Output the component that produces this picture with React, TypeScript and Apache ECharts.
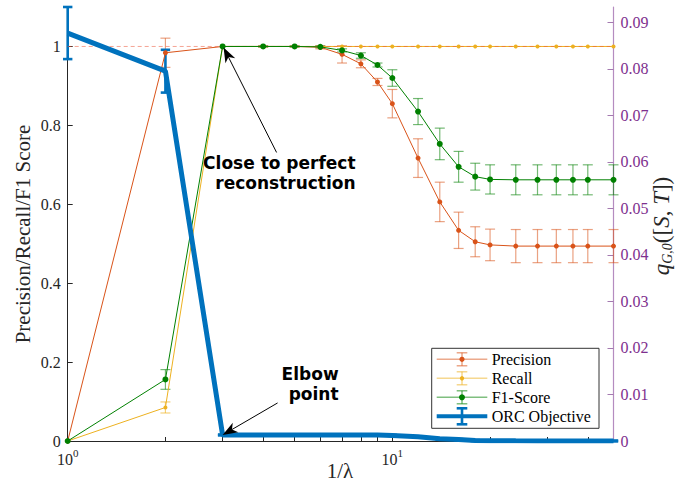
import React, { useEffect, useRef } from 'react';
import * as echarts from 'echarts';

// ---------- data ----------
const xValues = [1, 2, 3, 4, 5, 6, 7, 8, 9, 10, 12, 14, 16, 18, 20, 24, 28, 32, 36, 40, 48];
const precision = [0, 0.984, 1, 1, 1, 0.998, 0.98, 0.956, 0.91, 0.855, 0.717, 0.606, 0.534, 0.505, 0.497, 0.494, 0.494, 0.494, 0.494, 0.494, 0.494];
const precisionErr = [0, 0.037, 0, 0.002, 0.002, 0.004, 0.022, 0.01, 0.009, 0.036, 0.049, 0.05, 0.046, 0.038, 0.04, 0.042, 0.042, 0.042, 0.042, 0.042, 0.042];
const recall = [0, 0.085, 1, 1, 1, 1, 1, 1, 1, 1, 1, 1, 1, 1, 1, 1, 1, 1, 1, 1, 1];
const recallErr = [0, 0.014, 0, 0, 0, 0, 0, 0, 0, 0, 0, 0, 0, 0, 0, 0, 0, 0, 0, 0, 0];
const f1 = [0, 0.156, 1, 1, 1, 0.999, 0.99, 0.977, 0.953, 0.92, 0.835, 0.753, 0.695, 0.67, 0.663, 0.662, 0.662, 0.662, 0.662, 0.662, 0.662];
const f1Err = [0, 0.025, 0, 0.001, 0.001, 0.002, 0.004, 0.007, 0.005, 0.021, 0.033, 0.04, 0.039, 0.034, 0.037, 0.038, 0.038, 0.038, 0.038, 0.038, 0.038];
const orc = [0.0877, 0.0795, 0.0013, 0.0013, 0.0013, 0.0013, 0.0013, 0.0013, 0.0013, 0.0012, 0.0009, 0.0005, 0.0003, 0.0001, 0.00005, 0.00003, 0.00002, 0.00002, 0.00001, 0.00001, 0.00001];
const orcErr = [0.0056, 0.0046, 0.0001, 0.0001, 0.0001, 0.0001, 0.0001, 0.0001, 0.0001, 0.0001, 0.0001, 0.0001, 0.0001, 0.0001, 0.0001, 0.0001, 0.0001, 0.0001, 0.0001, 0.0001, 0.0001];
const referenceLine = [1, 1];
const leftTicks = [0, 0.2, 0.4, 0.6, 0.8, 1];
const rightTicks = [0, 0.01, 0.02, 0.03, 0.04, 0.05, 0.06, 0.07, 0.08, 0.09];
const xTickValues = [1, 2, 3, 4, 5, 6, 7, 8, 9, 10, 20, 30, 40];
const legendLabels = ['Precision', 'Recall', 'F1-Score', 'ORC Objective'];

const C_PREC = '#D95319';
const C_REC = '#EDB120';
const C_F1 = '#008000';
const C_ORC = '#0072BD';
const C_PURPLE = '#7E2F8E';
const C_AXIS = '#262626';
const SERIF = '"Liberation Serif", "Times New Roman", serif';
const SANS = '"DejaVu Sans", sans-serif';

function errorSeries(name: string, vals: number[], errs: number[], color: string, yAxisIndex: number, lineWidth: number, capHalf: number, opacity: number) {
  return {
    type: 'custom',
    name,
    xAxisIndex: 0,
    yAxisIndex,
    silent: true,
    data: xValues.map((x, i) => [x, vals[i], errs[i]]),
    encode: { x: 0, y: 1 },
    renderItem: (_params: any, api: any) => {
      const x = api.value(0);
      const y = api.value(1);
      const e = api.value(2);
      if (!e) return { type: 'group', children: [] };
      const top = api.coord([x, y + e]);
      const bot = api.coord([x, y - e]);
      const style = { stroke: color, lineWidth, opacity };
      return {
        type: 'group',
        children: [
          { type: 'line', shape: { x1: top[0], y1: top[1], x2: bot[0], y2: bot[1] }, style },
          { type: 'line', shape: { x1: top[0] - capHalf, y1: top[1], x2: top[0] + capHalf, y2: top[1] }, style },
          { type: 'line', shape: { x1: bot[0] - capHalf, y1: bot[1], x2: bot[0] + capHalf, y2: bot[1] }, style },
        ],
      };
    },
  };
}

function lineSeries(name: string, vals: number[], color: string, yAxisIndex: number, width: number, symbolSize: number) {
  return {
    type: 'line',
    name,
    xAxisIndex: 0,
    yAxisIndex,
    silent: true,
    data: xValues.map((x, i) => [x, vals[i]]),
    symbol: symbolSize > 0 ? 'circle' : 'none',
    symbolSize,
    showSymbol: symbolSize > 0,
    itemStyle: { color },
    lineStyle: { color, width },
    emphasis: { disabled: true },
  };
}

function arrow(tail: number[], tip: number[], headLen: number, headHalf: number) {
  const dx = tip[0] - tail[0];
  const dy = tip[1] - tail[1];
  const L = Math.hypot(dx, dy);
  const ux = dx / L, uy = dy / L;
  const px = -uy, py = ux;
  const bx = tip[0] - ux * headLen, by = tip[1] - uy * headLen;
  const nx = tip[0] - ux * headLen * 0.72, ny = tip[1] - uy * headLen * 0.72;
  return [
    { type: 'line', z: 100, shape: { x1: tail[0], y1: tail[1], x2: nx, y2: ny }, style: { stroke: '#000', lineWidth: 1 } },
    {
      type: 'polygon', z: 100,
      shape: { points: [[tip[0], tip[1]], [bx + px * headHalf, by + py * headHalf], [nx, ny], [bx - px * headHalf, by - py * headHalf]] },
      style: { fill: '#000' },
    },
  ];
}

export default function App() {
  const ref = useRef<HTMLDivElement>(null);
  useEffect(() => {
    if (!ref.current) return;
    const chart = echarts.init(ref.current, null, { renderer: 'svg' });
    const logMax = Math.log10(xValues[xValues.length - 1]);
    const series: any[] = [
      errorSeries('precErr', precision, precisionErr, C_PREC, 0, 1.2, 5, 0.55),
      lineSeries('Precision', precision, C_PREC, 0, 1, 5),
      errorSeries('recErr', recall, recallErr, C_REC, 0, 1.2, 5, 0.6),
      lineSeries('Recall', recall, C_REC, 0, 1, 4),
      {
        type: 'line', name: 'ref', xAxisIndex: 0, yAxisIndex: 0, silent: true,
        data: [[xValues[0], referenceLine[0]], [xValues[xValues.length - 1], referenceLine[1]]],
        symbol: 'none', lineStyle: { color: 'rgba(235,90,60,0.55)', width: 1, type: [4, 3] },
      },
      errorSeries('f1Err', f1, f1Err, C_F1, 0, 1.2, 5, 0.55),
      lineSeries('F1-Score', f1, C_F1, 0, 1, 6),
      errorSeries('orcErr', orc, orcErr, C_ORC, 1, 2.6, 4.7, 1),
      lineSeries('ORC Objective', orc, C_ORC, 1, 5, 0),
    ];
    const option: any = {
      animation: false,
      backgroundColor: '#fff',
      grid: { left: 67.7, right: 66.5, top: 7, bottom: 54, containLabel: false },
      xAxis: [
        {
          type: 'log', logBase: 10, min: xValues[0], max: xValues[xValues.length - 1],
          axisLine: { show: true, lineStyle: { color: C_AXIS, width: 1 } },
          axisTick: { show: false },
          minorTick: { show: false },
          splitLine: { show: false },
          axisLabel: {
            margin: 6,
            formatter: (v: number) => (Math.abs(v - 1) < 1e-9 ? '{b|10}{s|0}' : Math.abs(v - 10) < 1e-9 ? '{b|10}{s|1}' : ''),
            rich: {
              b: { fontFamily: SERIF, fontSize: 16, color: C_AXIS, lineHeight: 20, verticalAlign: 'bottom' },
              s: { fontFamily: SERIF, fontSize: 11, color: C_AXIS, lineHeight: 12, verticalAlign: 'top' },
            },
          },
        },
        {
          type: 'value', min: 0, max: logMax, position: 'bottom', show: true,
          axisLine: { show: false },
          axisLabel: { show: false },
          splitLine: { show: false },
          axisTick: {
            show: true, inside: true, length: 4,
            customValues: xTickValues.map((v) => Math.log10(v)),
            lineStyle: { color: C_AXIS, width: 1 },
          },
        },
      ],
      yAxis: [
        {
          type: 'value', min: 0, max: 1.1, position: 'left',
          axisLine: { show: true, lineStyle: { color: C_AXIS, width: 1 } },
          axisTick: { show: true, inside: true, length: 5, customValues: leftTicks, lineStyle: { color: C_AXIS } },
          axisLabel: { customValues: leftTicks, fontFamily: SERIF, fontSize: 16, color: C_AXIS, margin: 7 },
          splitLine: { show: false },
        },
        {
          type: 'value', min: 0, max: 0.0933, position: 'right',
          axisLine: { show: true, lineStyle: { color: '#B58CC0', width: 1.2 } },
          axisTick: { show: true, inside: true, length: 6, customValues: rightTicks, lineStyle: { color: '#A47AB0' } },
          axisLabel: {
            customValues: rightTicks, fontFamily: SERIF, fontSize: 16, color: C_PURPLE, margin: 7,
            formatter: (v: number) => (v === 0 ? '0' : v.toFixed(2)),
          },
          splitLine: { show: false },
        },
      ],
      series,
    };
    chart.setOption(option);

    const f1Index = series.findIndex((s) => s.name === 'F1-Score');
    const orcIndex = series.findIndex((s) => s.name === 'ORC Objective');
    const p1 = chart.convertToPixel({ seriesIndex: f1Index }, [xValues[2], f1[2]]) as number[];
    const p2 = chart.convertToPixel({ seriesIndex: orcIndex }, [xValues[2], orc[2]]) as number[];
    const tip1 = [p1[0] + 1, p1[1] + 1];
    const tip2 = [p2[0], p2[1]];

    // legend
    const lx = 431.7, ly = 348.3, lw = 167.3, lh = 80;
    const rowsY = [359.3, 378.3, 397.3, 416.3];
    const iconX0 = 436.7, iconX1 = 487.3, iconC = 462, textX = 491.7;
    const legendStyles = [
      { line: 'rgba(217,83,25,0.5)', dot: C_PREC, dotR: 2.6, lw: 1.5, ew: 1.3, eh: 6.5, cap: 5.3 },
      { line: 'rgba(237,177,32,0.5)', dot: C_REC, dotR: 2.2, lw: 1.5, ew: 1.3, eh: 6.5, cap: 5.3 },
      { line: 'rgba(0,128,0,0.5)', dot: C_F1, dotR: 3, lw: 1.5, ew: 1.3, eh: 6.5, cap: 5.3 },
      { line: C_ORC, dot: '', dotR: 0, lw: 4, ew: 2.6, eh: 8, cap: 5.3 },
    ];
    const legendEls: any[] = [
      { type: 'rect', z: 100, shape: { x: lx, y: ly, width: lw, height: lh }, style: { fill: '#fff', stroke: '#333', lineWidth: 1 } },
    ];
    legendLabels.forEach((label, i) => {
      const y = rowsY[i];
      const st = legendStyles[i];
      const ec = i === 3 ? C_ORC : st.dot;
      const eo = i === 3 ? 1 : 0.6;
      legendEls.push(
        { type: 'line', z: 101, shape: { x1: iconX0, y1: y, x2: iconX1, y2: y }, style: { stroke: st.line, lineWidth: st.lw } },
        { type: 'line', z: 101, shape: { x1: iconC, y1: y - st.eh, x2: iconC, y2: y + st.eh }, style: { stroke: ec, lineWidth: st.ew, opacity: eo } },
        { type: 'line', z: 101, shape: { x1: iconC - st.cap, y1: y - st.eh, x2: iconC + st.cap, y2: y - st.eh }, style: { stroke: ec, lineWidth: st.ew, opacity: eo } },
        { type: 'line', z: 101, shape: { x1: iconC - st.cap, y1: y + st.eh, x2: iconC + st.cap, y2: y + st.eh }, style: { stroke: ec, lineWidth: st.ew, opacity: eo } },
        { type: 'text', z: 101, x: textX, y, style: { text: label, font: `16px ${SERIF}`, fill: '#000', align: 'left', verticalAlign: 'middle' } },
      );
      if (st.dotR > 0) {
        legendEls.push({ type: 'circle', z: 102, shape: { cx: iconC, cy: y, r: st.dotR }, style: { fill: st.dot } });
      }
    });

    const graphics: any[] = [
      // axis titles
      {
        type: 'text', z: 100, x: 23, y: 234, rotation: Math.PI / 2,
        style: { text: 'Precision/Recall/F1 Score', font: `21px ${SERIF}`, fill: C_AXIS, align: 'center', verticalAlign: 'middle' },
      },
      {
        type: 'text', z: 100, x: 340, y: 471,
        style: { text: '1/λ', font: `21px ${SERIF}`, fill: C_AXIS, align: 'center', verticalAlign: 'middle' },
      },
      {
        type: 'text', z: 100, x: 661, y: 226, rotation: Math.PI / 2,
        style: {
          text: '{i|q}{sub|G,0}{n|([}{i|S}{n|, }{i|T}{n|])}',
          align: 'center', verticalAlign: 'middle',
          rich: {
            i: { fontFamily: SERIF, fontStyle: 'italic', fontSize: 23, fill: C_AXIS, lineHeight: 26, verticalAlign: 'middle' },
            n: { fontFamily: SERIF, fontSize: 23, fill: C_AXIS, lineHeight: 26, verticalAlign: 'middle' },
            sub: { fontFamily: SERIF, fontStyle: 'italic', fontSize: 14, fill: C_AXIS, lineHeight: 14, verticalAlign: 'bottom' },
          },
        },
      },
      // annotations
      ...arrow([tip1[0] + 53, tip1[1] + 105], tip1, 15, 5.5),
      {
        type: 'text', z: 100, x: tip1[0] + 132, y: tip1[1] + 126,
        style: { text: 'Close to perfect\nreconstruction', font: `bold 17px ${SANS}`, fill: '#000', align: 'right', verticalAlign: 'middle', lineHeight: 20 },
      },
      ...arrow([tip2[0] + 55, tip2[1] - 32], tip2, 15, 5.5),
      {
        type: 'text', z: 100, x: tip2[0] + 116, y: tip2[1] - 51,
        style: { text: 'Elbow\npoint', font: `bold 17px ${SANS}`, fill: '#000', align: 'right', verticalAlign: 'middle', lineHeight: 20 },
      },
      ...legendEls,
    ];
    chart.setOption({ graphic: graphics });

    return () => chart.dispose();
  }, []);
  return <div ref={ref} style={{ position: 'absolute', left: 0, top: 0, width: 680, height: 495 }} />;
}
